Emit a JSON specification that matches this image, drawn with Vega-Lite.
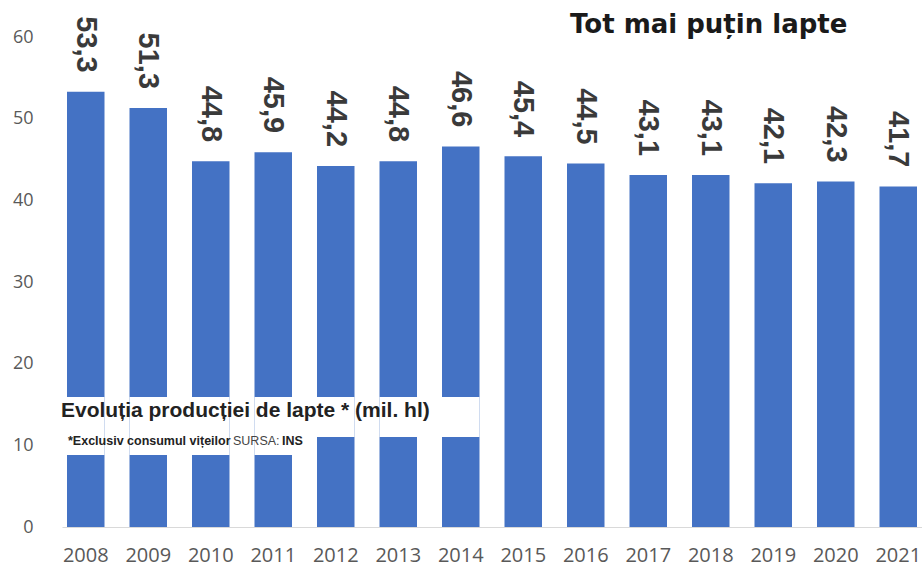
{
  "$schema": "https://vega.github.io/schema/vega-lite/v6.json",
  "autosize": "none",
  "width": 860,
  "height": 490,
  "padding": {"left": 62, "top": 37, "right": 0, "bottom": 41},
  "background": "white",
  "config": {
    "view": {"stroke": null},
    "locale": {"number": {"decimal": ",", "thousands": ".", "grouping": [3], "currency": ["", ""]}}
  },
  "data": {
    "values": [
      {"year": "2008", "value": 53.3},
      {"year": "2009", "value": 51.3},
      {"year": "2010", "value": 44.8},
      {"year": "2011", "value": 45.9},
      {"year": "2012", "value": 44.2},
      {"year": "2013", "value": 44.8},
      {"year": "2014", "value": 46.6},
      {"year": "2015", "value": 45.4},
      {"year": "2016", "value": 44.5},
      {"year": "2017", "value": 43.1},
      {"year": "2018", "value": 43.1},
      {"year": "2019", "value": 42.1},
      {"year": "2020", "value": 42.3},
      {"year": "2021", "value": 41.7}
    ]
  },
  "encoding": {
    "x": {
      "field": "year", "type": "ordinal",
      "scale": {"paddingInner": 0.4, "paddingOuter": 0.08},
      "axis": {
        "title": null, "labelAngle": 0, "ticks": false, "tickSize": 0,
        "domainColor": "#d9d9d9", "domainWidth": 1,
        "labelFont": "Open Sans", "labelFontSize": 20, "labelColor": "#595959",
        "labelPadding": 18
      }
    }
  },
  "layer": [
    {
      "mark": {"type": "bar", "color": "#4472C4"},
      "encoding": {
        "y": {
          "field": "value", "type": "quantitative",
          "scale": {"domain": [0, 60], "nice": false},
          "axis": {
            "title": null, "values": [0, 10, 20, 30, 40, 50, 60],
            "grid": false, "domain": false, "ticks": false, "tickSize": 0,
            "labelFont": "Open Sans", "labelFontSize": 18, "labelColor": "#595959",
            "labelPadding": 29, "labelAlign": "right"
          }
        }
      }
    },
    {
      "mark": {"type": "text", "angle": 90, "align": "right", "baseline": "middle", "dx": -19,
               "font": "Liberation Sans", "fontWeight": "bold", "fontSize": 29, "color": "#3a3a3a"},
      "encoding": {
        "y": {"field": "value", "type": "quantitative"},
        "text": {"field": "value", "type": "quantitative", "format": ".1f"}
      }
    },
    {
      "transform": [{"filter": "toNumber(datum.year) <= 2014"}],
      "mark": {"type": "bar", "color": "white", "width": {"band": 1}},
      "encoding": {
        "y": {"datum": 11.02, "type": "quantitative"},
        "y2": {"datum": 15.92}
      }
    },
    {
      "transform": [{"filter": "toNumber(datum.year) <= 2011"}],
      "mark": {"type": "bar", "color": "white", "width": {"band": 1}},
      "encoding": {
        "y": {"datum": 8.82, "type": "quantitative"},
        "y2": {"datum": 11.02}
      }
    },
    {
      "data": {"values": [{}]},
      "mark": {"type": "text", "align": "left", "baseline": "alphabetic", "dx": -6,
               "font": "Liberation Sans", "fontWeight": "bold", "fontSize": 21, "color": "#222222",
               "text": "Evoluția producției de lapte * (mil. hl)"},
      "encoding": {
        "x": {"datum": "2008", "bandPosition": 0},
        "y": {"datum": 13.47, "type": "quantitative"}
      }
    },
    {
      "data": {"values": [{}]},
      "mark": {"type": "text", "align": "left", "baseline": "alphabetic", "dx": 1,
               "font": "Liberation Sans", "fontWeight": "bold", "fontSize": 12.5, "color": "#222222",
               "text": "*Exclusiv consumul vițeilor"},
      "encoding": {
        "x": {"datum": "2008", "bandPosition": 0},
        "y": {"datum": 10.04, "type": "quantitative"}
      }
    },
    {
      "data": {"values": [{}]},
      "mark": {"type": "text", "align": "left", "baseline": "alphabetic", "dx": 166,
               "font": "Liberation Sans", "fontSize": 12.5, "color": "#444444",
               "text": "SURSA:"},
      "encoding": {
        "x": {"datum": "2008", "bandPosition": 0},
        "y": {"datum": 10.04, "type": "quantitative"}
      }
    },
    {
      "data": {"values": [{}]},
      "mark": {"type": "text", "align": "left", "baseline": "alphabetic", "dx": 215,
               "font": "Liberation Sans", "fontWeight": "bold", "fontSize": 12.5, "color": "#222222",
               "text": "INS"},
      "encoding": {
        "x": {"datum": "2008", "bandPosition": 0},
        "y": {"datum": 10.04, "type": "quantitative"}
      }
    },
    {
      "data": {"values": [{}]},
      "mark": {"type": "text", "align": "left", "baseline": "alphabetic", "dx": 3, "dy": -4,
               "font": "DejaVu Sans", "fontWeight": "bold", "fontSize": 26, "color": "#1a1a1a",
               "text": "Tot mai puțin lapte"},
      "encoding": {
        "x": {"datum": "2016", "bandPosition": 0},
        "y": {"datum": 60, "type": "quantitative"}
      }
    }
  ]
}
